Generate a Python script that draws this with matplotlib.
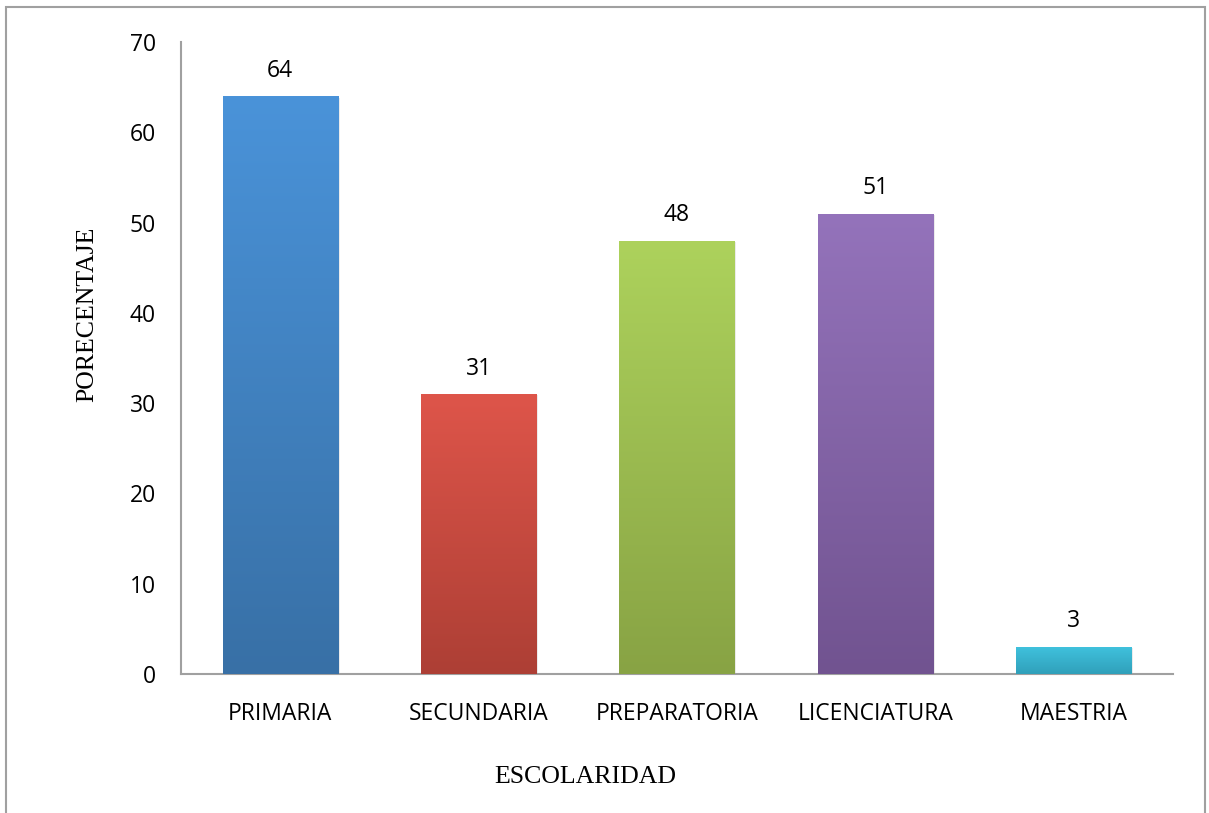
import numpy as np
import matplotlib.pyplot as plt
from matplotlib.patches import Rectangle
from matplotlib.colors import LinearSegmentedColormap

categorias = ['PRIMARIA', 'SECUNDARIA', 'PREPARATORIA', 'LICENCIATURA', 'MAESTRIA']
porcentajes = [64, 31, 48, 51, 3]
# (top colour, bottom colour) for each bar
colores = [
    ('#4a93d9', '#3870a6'),
    ('#de554a', '#ad3f35'),
    ('#add25c', '#88a344'),
    ('#9473bb', '#715390'),
    ('#40c2de', '#30a0ba'),
]
yticks = [0, 10, 20, 30, 40, 50, 60, 70]

fig = plt.figure(figsize=(12.09, 8.13), dpi=100)
ax = fig.add_axes([0.1497, 0.1710, 0.8203, 0.7773])

# gray frame around the chart area
fig.patches.append(Rectangle((0.005, -0.01), 0.992, 1.002, transform=fig.transFigure,
                             fill=False, edgecolor='#a0a0a0', linewidth=1.5))

ancho = 0.58
x = np.arange(len(categorias))
bars = ax.bar(x, porcentajes, width=ancho, color='none', edgecolor='none', zorder=2)

grad = np.linspace(0, 1, 256).reshape(-1, 1)
for b, (top, bottom) in zip(bars, colores):
    x0, y0 = b.get_x(), b.get_y()
    w, h = b.get_width(), b.get_height()
    # soft shadow to the right
    ax.add_patch(Rectangle((x0 + 0.01, y0), w, h - 0.15, color='#000000',
                           alpha=0.08, zorder=1, linewidth=0))
    cmap = LinearSegmentedColormap.from_list('g', [bottom, top])
    im = ax.imshow(grad, cmap=cmap, aspect='auto', origin='lower',
                   extent=[x0, x0 + w, y0, y0 + h], zorder=3)
    im.set_clip_path(b)
    ax.text(x0 + w / 2, h + 1.5, f'{h:g}', ha='center', va='bottom',
            fontsize=16.5, family='Open Sans', color='#000000')

ax.set_xlim(-0.5, len(categorias) - 0.5)
ax.set_ylim(0, 70)
ax.set_yticks(yticks)
ax.set_xticks(x)
ax.set_xticklabels(categorias, family='Open Sans', fontsize=16.5)
ax.set_yticklabels([str(t) for t in yticks], family='Open Sans', fontsize=16.5)
ax.tick_params(axis='both', length=0)
ax.tick_params(axis='x', pad=20)
ax.tick_params(axis='y', pad=18)

for s in ['top', 'right']:
    ax.spines[s].set_visible(False)
for s in ['left', 'bottom']:
    ax.spines[s].set_color('#a0a0a0')
    ax.spines[s].set_linewidth(1.5)

ax.set_xlabel('ESCOLARIDAD', family='Liberation Serif', fontsize=18.6, va='center')
ax.set_ylabel('PORECENTAJE', family='Liberation Serif', fontsize=18.6, va='center')
ax.xaxis.set_label_coords(0.408, -0.163)
ax.yaxis.set_label_coords(-0.094, 0.569)

fig.savefig('out.png', dpi=100)
